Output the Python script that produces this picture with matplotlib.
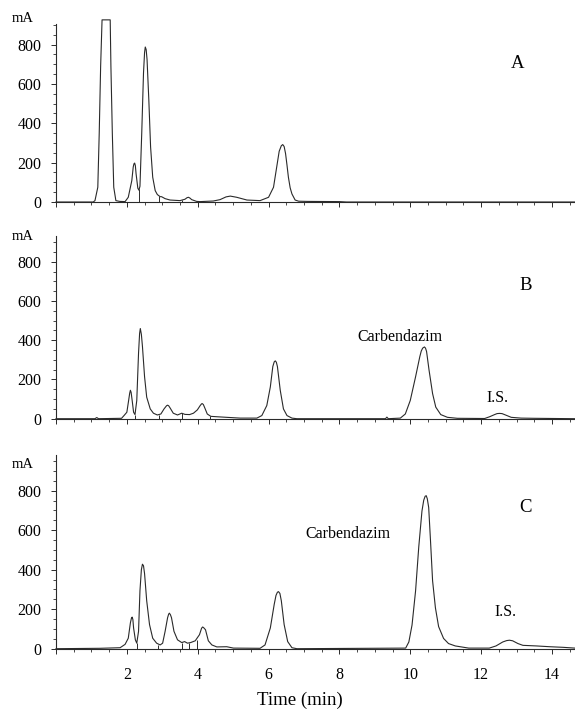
import matplotlib
matplotlib.use("Agg")
import matplotlib.pyplot as plt
from matplotlib.ticker import MultipleLocator, FixedLocator

plt.rcParams['font.family'] = ['Liberation Serif', 'DejaVu Serif']

# ---- data (time in min, signal in mA) ----
tA = [0.0, 1.05, 1.10, 1.18, 1.22, 1.26, 1.30, 1.53, 1.55, 1.59, 1.63, 1.69, 1.80, 1.95,
      2.04, 2.14, 2.18, 2.20, 2.22, 2.24, 2.26, 2.31, 2.34, 2.37, 2.42, 2.47, 2.50, 2.52,
      2.545, 2.57, 2.62, 2.67, 2.73, 2.80, 2.86, 2.94, 2.98, 3.08, 3.22, 3.50, 3.64, 3.70,
      3.74, 3.78, 3.83, 3.97, 4.07, 4.44, 4.63, 4.80, 4.92, 5.10, 5.39, 5.76, 6.00, 6.14,
      6.23, 6.30, 6.36, 6.40, 6.44, 6.48, 6.52, 6.56, 6.61, 6.66, 6.75, 6.85, 7.10, 8.00,
      8.20, 14.65]
vA = [0, 0, 7, 75, 349, 690, 926, 926, 690, 349, 75, 7, 3, 2,
      24, 109, 178, 194, 198, 185, 144, 70, 60, 80, 349, 656, 760, 788,
      775, 725, 520, 280, 126, 58, 38, 27, 27, 17, 10, 7, 14, 22,
      24, 20, 12, 3, 2, 5, 12, 26, 30, 24, 10, 7, 24, 75,
      178, 258, 286, 292, 282, 246, 188, 126, 72, 41, 10, 4, 3, 2,
      0, 0]

tB = [0.0, 1.10, 1.15, 1.20, 1.85, 1.92, 2.00, 2.05, 2.08, 2.10, 2.12, 2.15, 2.19, 2.23,
      2.28, 2.33, 2.36, 2.38, 2.41, 2.44, 2.50, 2.56, 2.66, 2.75, 2.86, 2.96, 3.05, 3.12,
      3.15, 3.18, 3.22, 3.31, 3.43, 3.55, 3.64, 3.77, 3.88, 3.99, 4.07, 4.11, 4.13, 4.16,
      4.20, 4.27, 4.37, 4.54, 4.82, 5.20, 5.67, 5.81, 5.95, 6.05, 6.12, 6.16, 6.19, 6.22,
      6.25, 6.33, 6.42, 6.52, 6.66, 6.80, 9.30, 9.34, 9.38, 9.72, 9.86, 10.00, 10.15,
      10.27, 10.31, 10.35, 10.40, 10.43, 10.46, 10.53, 10.63, 10.72, 10.86, 11.05, 11.33,
      12.10, 12.24, 12.38, 12.45, 12.52, 12.59, 12.66, 12.85, 13.13, 13.50, 14.65]
vB = [0, 0, 6, 0, 2, 16, 33, 93, 130, 145, 135, 93, 33, 21,
      93, 335, 435, 460, 430, 369, 214, 110, 50, 28, 19, 24, 50, 66,
      69, 66, 55, 28, 19, 28, 22, 21, 28, 45, 67, 76, 77, 72,
      55, 24, 12, 10, 7, 3, 3, 16, 67, 162, 266, 290, 295, 288,
      266, 145, 50, 16, 3, 0, 0, 8, 0, 3, 24, 93, 214,
      317, 345, 360, 366, 360, 343, 248, 128, 59, 21, 7, 2,
      1, 10, 21, 26, 27, 26, 21, 7, 3, 2, 0]

tC = [0.0, 1.24, 1.81, 1.95, 2.04, 2.10, 2.13, 2.15, 2.17, 2.19, 2.24, 2.28, 2.33, 2.37,
      2.41, 2.44, 2.47, 2.50, 2.56, 2.64, 2.73, 2.84, 2.94, 3.01, 3.08, 3.15, 3.18, 3.20,
      3.23, 3.26, 3.33, 3.43, 3.55, 3.63, 3.71, 3.80, 3.93, 4.05, 4.11, 4.14, 4.17, 4.22,
      4.30, 4.40, 4.54, 4.82, 5.01, 5.76, 5.90, 6.05, 6.16, 6.21, 6.25, 6.28, 6.32, 6.36,
      6.44, 6.54, 6.66, 6.80, 9.87, 9.96, 10.05, 10.15, 10.24, 10.33, 10.38, 10.42, 10.45,
      10.48, 10.52, 10.57, 10.63, 10.71, 10.80, 10.94, 11.08, 11.27, 11.65, 12.23, 12.42,
      12.61, 12.72, 12.80, 12.89, 13.04, 13.18, 13.56, 13.94, 14.31, 14.65]
vC = [0, 2, 5, 22, 53, 131, 155, 160, 148, 105, 45, 28, 88, 294,
      400, 428, 420, 380, 243, 122, 53, 28, 19, 28, 88, 157, 175, 180,
      172, 157, 88, 45, 31, 36, 28, 31, 40, 71, 104, 110, 106, 96,
      40, 19, 9, 10, 3, 2, 19, 105, 225, 270, 286, 289, 280, 243,
      122, 36, 5, 0, 3, 34, 120, 293, 516, 697, 752, 772, 775,
      760, 715, 551, 344, 207, 112, 52, 26, 14, 3, 3, 14,
      34, 41, 43, 40, 26, 17, 14, 10, 7, 3]

# integration drop lines (time, height)
dropA_t = [2.33, 2.92, 3.56]
dropA_v = [65, 28, 12]
dropB_t = [2.23, 2.92, 3.55, 4.35]
dropB_v = [21, 20, 28, 12]
dropC_t = [2.28, 2.89, 3.55, 3.76, 3.97]
dropC_v = [28, 20, 31, 29, 42]

panel_letters = ["A", "B", "C"]
x_major = [0, 2, 4, 6, 8, 10, 12, 14]
x_labels = ["", "2", "4", "6", "8", "10", "12", "14"]
y_major = [0, 200, 400, 600, 800]
y_top = [905, 932, 981]

W, H = 575, 713
fig = plt.figure(figsize=(W / 100, H / 100), dpi=100)

# axes geometry in pixels: (left, bottom_px, top_px)
geo = [(56, 202, 24), (56, 418.7, 236), (56, 648.7, 455)]
traces = [(tA, vA, dropA_t, dropA_v), (tB, vB, dropB_t, dropB_v), (tC, vC, dropC_t, dropC_v)]
col = "#2a2a2a"

axes = []
for i, ((l, b, t), (tt, vv, dt, dv)) in enumerate(zip(geo, traces)):
    ax = fig.add_axes([l / W, 1 - b / H, (W - l) / W, (b - t) / H])
    ax.plot(tt, vv, color=col, lw=0.8, clip_on=False, solid_joinstyle="round")
    ax.vlines(dt, 0, dv, color=col, lw=0.7)
    ax.set_xlim(0, 14.65)
    ax.set_ylim(0, y_top[i])
    for s in ("top", "right"):
        ax.spines[s].set_visible(False)
    for s in ("left", "bottom"):
        ax.spines[s].set_linewidth(0.8)
        ax.spines[s].set_color(col)
    ax.xaxis.set_major_locator(FixedLocator(x_major))
    ax.xaxis.set_minor_locator(MultipleLocator(0.5))
    ax.yaxis.set_major_locator(FixedLocator(y_major))
    ax.yaxis.set_minor_locator(MultipleLocator(50))
    ax.tick_params(axis="both", which="major", length=3.5, width=0.7, color=col,
                   labelsize=11.5)
    ax.tick_params(axis="both", which="minor", length=2, width=0.6, color=col)
    ax.tick_params(axis="y", pad=7)
    ax.tick_params(axis="x", pad=10)
    ax.set_yticklabels([str(v) for v in y_major])
    if i < 2:
        ax.set_xticklabels([])
    else:
        ax.set_xticklabels(x_labels)
    ax.patch.set_alpha(0)
    axes.append(ax)

def ftext(x, y, s, size, **kw):
    fig.text(x / W, 1 - y / H, s, fontsize=size, ha="center", va="center", **kw)

# unit labels
for y in (19, 236, 465):
    ftext(23, y, "mA", 10.5)

# panel letters
ftext(518, 63, "A", 13.5)
ftext(526, 285, "B", 13.5)
ftext(526, 507, "C", 13.5)

# peak annotations
ftext(400, 337, "Carbendazim", 11.5)
ftext(497, 398, "I.S.", 11.5)
ftext(348, 534, "Carbendazim", 11.5)
ftext(505, 612, "I.S.", 11.5)

# x axis title
ftext(300, 700, "Time (min)", 13.5)

fig.savefig("out.png", dpi=100)
